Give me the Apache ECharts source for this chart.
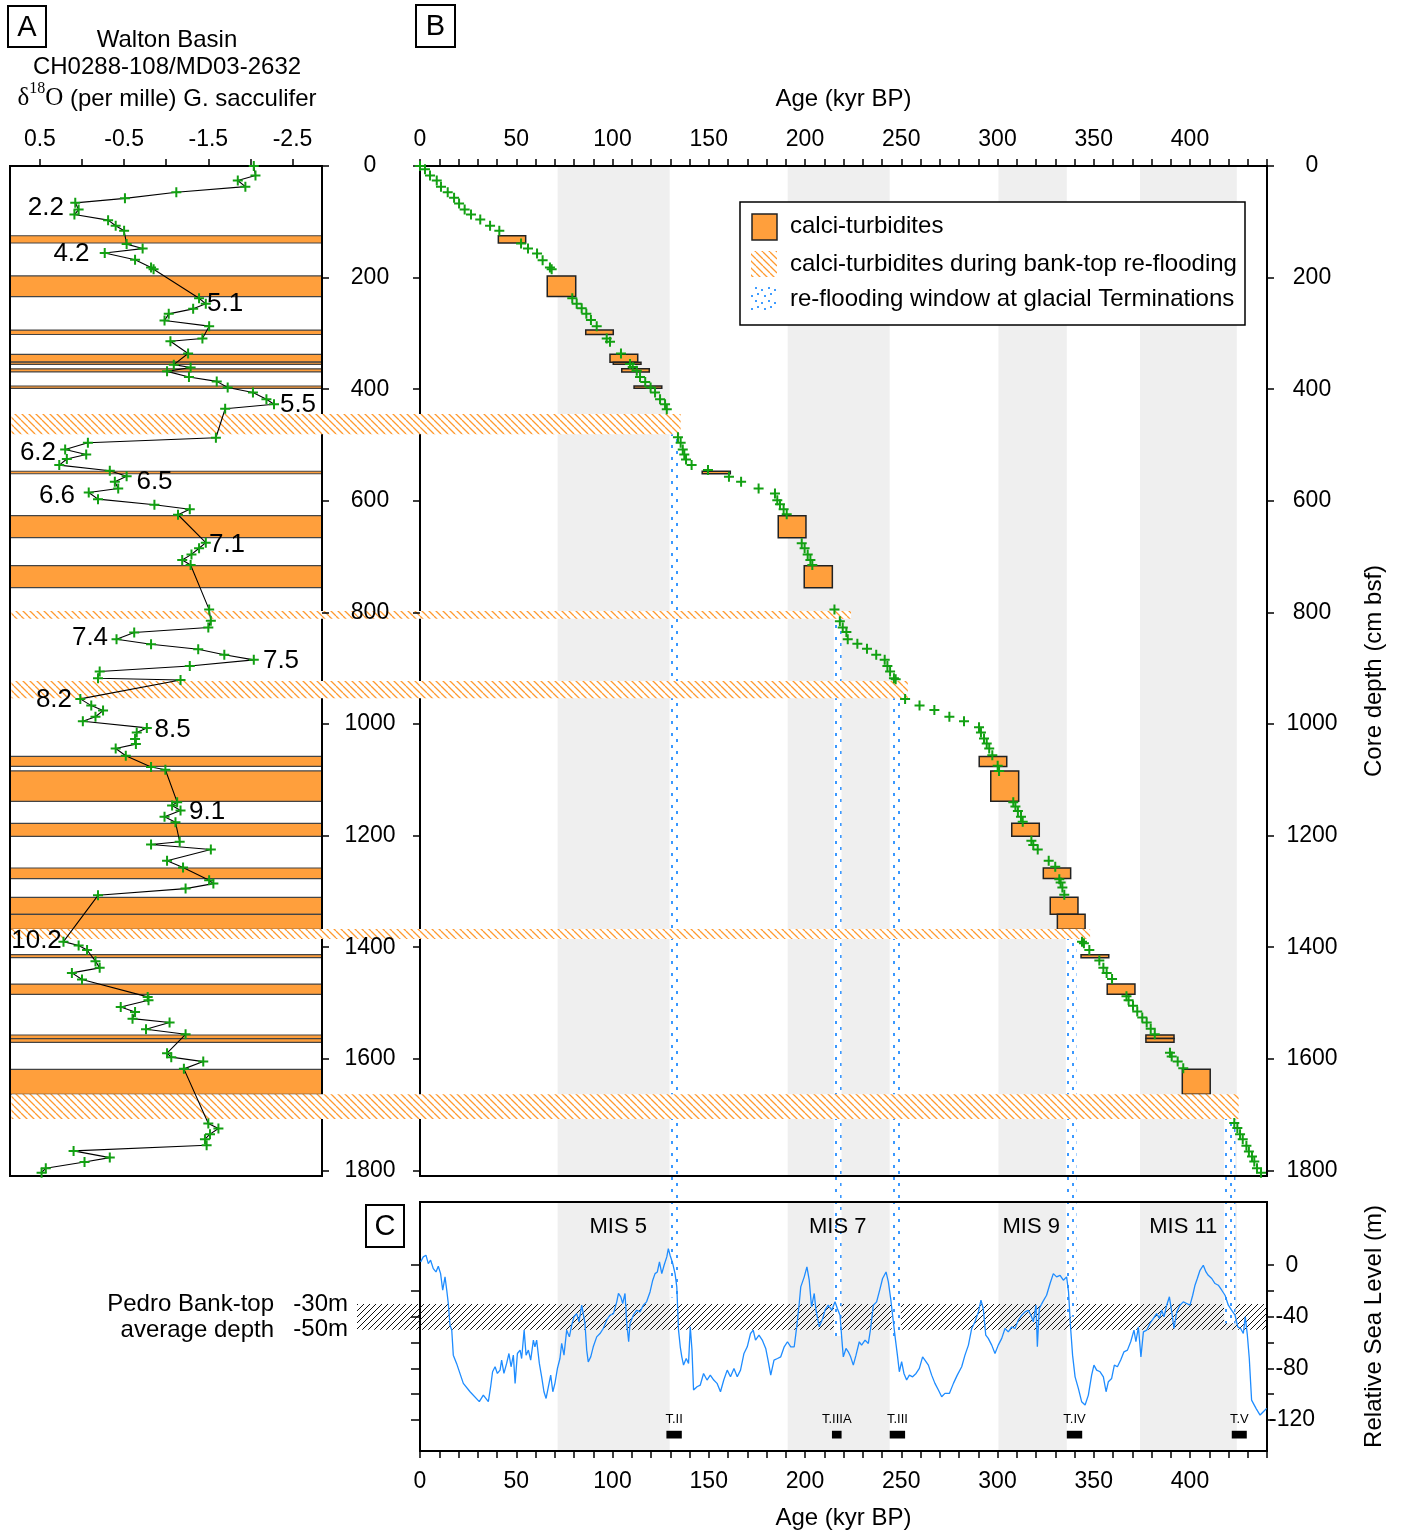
<!DOCTYPE html>
<html>
<head>
<meta charset="utf-8">
<title>Walton Basin calci-turbidites</title>
<script src="https://cdn.jsdelivr.net/npm/echarts@6.0.0/dist/echarts.min.js"></script>
<style>
html,body{margin:0;padding:0;background:#fff;}
#chart{width:1405px;height:1532px;}
</style>
</head>
<body>
<div id="chart"></div>
<script>
const FONT = "'Liberation Sans', Arial, Helvetica, sans-serif";
const SERIF = "'Liberation Serif', 'Times New Roman', serif";
const ORANGE = '#ff9f3c';
const GREEN = '#12a012';
const BLUE = '#1e8cff';
const GREY = '#efefef';

// ---------- Panel A : d18O (per mille) G. sacculifer, [depth cm, value] ----------
const isoRecord = [
 [0,-2.04],[17,-2.06],[26,-1.85],[37,-1.94],[47,-1.12],[58,-0.51],[66,0.08],[78,0.04],[87,0.09],
 [97,-0.31],[107,-0.40],[116,-0.50],[140,-0.53],[148,-0.72],[156,-0.27],[168,-0.63],[182,-0.82],
 [185,-0.85],[237,-1.39],[247,-1.47],[256,-1.32],[265,-1.03],[277,-0.98],[287,-1.51],[309,-1.43],
 [314,-1.05],[336,-1.26],[356,-1.09],[361,-1.29],[368,-1.01],[378,-1.27],[386,-1.60],[397,-1.73],
 [406,-2.03],[418,-2.19],[427,-2.28],[435,-1.70],[487,-1.59],[496,-0.07],[508,0.20],[517,-0.05],
 [525,0.18],[536,0.27],[546,-0.33],[556,-0.53],[566,-0.39],[578,-0.43],[585,-0.08],[597,-0.19],
 [607,-0.86],[615,-1.28],[625,-1.14],[675,-1.47],[685,-1.39],[696,-1.30],[706,-1.19],[715,-1.29],
 [795,-1.51],[815,-1.53],[827,-1.50],[836,-0.62],[848,-0.41],[857,-0.82],[866,-1.38],[876,-1.69],
 [885,-2.04],[896,-1.28],[906,-0.21],[918,-0.19],[921,-1.17],[955,0.02],[967,-0.11],[976,-0.25],
 [987,-0.16],[995,-0.01],[1007,-0.77],[1015,-0.65],[1027,-0.63],[1036,-0.64],[1044,-0.40],
 [1057,-0.52],[1077,-0.82],[1082,-0.99],[1140,-1.13],[1146,-1.07],[1155,-1.17],[1166,-0.98],
 [1176,-1.11],[1211,-1.16],[1216,-0.82],[1225,-1.53],[1245,-1.01],[1257,-1.20],[1280,-1.51],
 [1286,-1.56],[1295,-1.23],[1307,-0.19],[1390,0.22],[1397,0.04],[1405,-0.06],[1425,-0.16],
 [1437,-0.21],[1446,0.12],[1458,0.00],[1489,-0.78],[1495,-0.79],[1507,-0.46],[1516,-0.63],
 [1528,-0.60],[1535,-1.04],[1547,-0.76],[1556,-1.23],[1590,-1.01],[1597,-1.06],[1605,-1.44],
 [1618,-1.21],[1716,-1.50],[1725,-1.62],[1735,-1.52],[1744,-1.46],[1755,-1.48],[1765,0.10],
 [1777,-0.33],[1785,-0.03],[1796,0.43],[1804,0.48]
];
// isotope stage annotations: text, value, depth
const isoLabelText  = ['2.2','4.2','5.1','5.5','6.2','6.5','6.6','7.1','7.4','7.5','8.2','8.5','9.1','10.2'];
const isoLabelValue = [0.43,0.125,-1.70,-2.565,0.523,-0.861,0.297,-1.722,-0.095,-2.363,0.333,-1.075,-1.485,0.54];
const isoLabelDepth = [75,158,247,428,514,566,591,679,846,887,957,1011,1158,1389];

// ---------- Panel B : age model, [age kyr BP, depth cm] ----------
const ageModel = [
 [0,0],[2.6,6],[5.2,17],[8.7,26],[10.9,37],[14.4,47],[17.7,57],[20.3,67],[23.2,78],[26.5,87],
 [31.3,96],[36.4,107],[41.2,116],[52.5,139],[56.1,148],[60.8,157],[63.7,169],[67.5,182],[68.4,185],
 [79.1,237],[81.4,247],[84.0,255],[86.4,265],[88.8,276],[91.8,287],[97.0,309],[98.7,315],[104.4,336],
 [109.1,355],[110.5,360],[112.6,367],[114.3,378],[117.0,387],[119.8,397],[122.1,406],[124.7,418],
 [127.3,427],[128.2,436],[134.0,486],[135.4,496],[136.5,508],[137.3,517],[138.2,526],[141.1,536],
 [149.6,545],[160.5,557],[166.8,566],[175.9,578],[184.4,587],[185.6,599],[187.0,606],[188.9,615],
 [190.5,624],[198.3,676],[199.8,685],[201.4,696],[202.8,706],[203.8,715],[215.3,795],[218.1,816],
 [219.6,827],[221.5,835],[222.2,848],[227.2,856],[232.2,865],[237.0,876],[241.4,885],[242.8,896],
 [244.2,906],[246.2,918],[247.1,920],[252.0,955],[259.5,967],[267.2,975],[275.0,987],[282.6,995],
 [290.4,1006],[291.4,1015],[293.0,1026],[294.4,1035],[295.7,1044],[297.3,1056],[300.1,1075],
 [300.8,1084],[308.2,1140],[309.3,1148],[310.6,1156],[312.2,1166],[313.1,1175],[317.6,1209],
 [318.6,1217],[320.9,1225],[326.6,1245],[330.0,1256],[332.1,1278],[332.8,1284],[333.7,1293],
 [334.7,1306],[343.9,1390],[344.9,1393],[347.7,1405],[352.9,1424],[355.0,1437],[356.7,1446],
 [359.5,1457],[367.0,1488],[368.1,1495],[370.4,1505],[372.6,1515],[375.2,1526],[377.5,1535],
 [379.6,1546],[381.7,1556],[389.6,1589],[390.5,1596],[393.6,1605],[396.5,1617],[423.0,1715],
 [424.6,1724],[426.0,1735],[427.4,1744],[429.3,1756],[430.6,1766],[432.2,1775],[433.4,1784],
 [434.8,1796],[436.9,1804]
];

// calci-turbidites: [age start, age end, top depth, bottom depth]
const turbidites = [
 [40.7,54.9,125,138],[66.1,80.9,197,234],[86.1,100.4,294,302],[98.7,113.1,337.5,351.5],
 [100.4,114.8,351.5,355.5],[104.8,119.1,363.5,369],[111.2,125.6,394.3,398.4],[146.6,161.2,547,551.5],
 [186.1,200.5,626.7,666],[199.6,214.2,716.3,755.7],[290.5,304.8,1058,1076],[296.5,311,1084,1138.5],
 [307.4,321.7,1178,1201.3],[323.8,338,1258,1277],[327.4,341.8,1310.6,1341],[331.1,345.5,1341,1368],
 [343.4,357.8,1413.4,1418.8],[357,371.4,1466,1484.4],[377.1,391.7,1557.3,1563.8],
 [377.1,391.7,1563.8,1570.4],[396,410.5,1618.8,1663.6]
];

// calci-turbidites during bank-top re-flooding
const refloodTop    = [444.4, 797.5, 922.9, 1367.5, 1663.6];
const refloodBottom = [480.8, 811.3, 954.0, 1385.5, 1708.0];
const refloodAgeEnd = [135.4, 223.9, 253.4, 348.1, 425.3];

// glacial Terminations (re-flooding windows)
const termName        = ['T.II','T.IIIA','T.III','T.IV','T.V'];
const termWindowStart = [129.7, 215.0, 245.0, 335.5, 417.7];
const termWindowEnd   = [134.6, 219.0, 249.8, 341.0, 423.6];
const termWindowFloor = [-25, -55, -55, -40, -45];
const termBarStart    = [128.0, 214.0, 244.0, 336.0, 421.7];
const termBarEnd      = [136.0, 219.0, 252.0, 344.0, 429.5];

// Marine isotope stages (interglacials)
const misName     = ['MIS 5','MIS 7','MIS 9','MIS 11'];
const misStart    = [71.5, 191.0, 300.5, 374.0];
const misEnd      = [129.7, 244.0, 336.0, 424.3];
const misLabelAge = [103, 217, 317.5, 396.5];

// Panel C : relative sea level (m), [age kyr BP, sea level]
const seaLevel = [
 [0.35,2.6],[1.7,6.5],[3.1,7.8],[4.3,1.3],[5.5,3.9],[6.9,-2.6],[8.3,-5.2],[9.5,-0.8],[10.7,-6.5],
 [11.8,-19.4],[13,-9],[13.9,-19.4],[14.7,-29.7],[15.6,-46.5],[16.5,-50.4],[17.3,-69.8],[19,-76.2],
 [22.5,-91.7],[26,-98.2],[30.8,-105.9],[32.9,-100.8],[35.5,-105.9],[36.7,-94.3],[37.7,-82.7],
 [39,-78.8],[40.2,-84],[41.6,-81.4],[42.4,-73.6],[43.6,-84],[45,-76.2],[46.2,-68.5],[47.3,-78.8],
 [48.5,-69.8],[49.4,-91.7],[50.6,-68.5],[52,-65.9],[52.8,-72.4],[54.1,-50.4],[55.1,-69.8],
 [56.3,-65.9],[57.5,-73.6],[58.9,-58.1],[59.7,-63.3],[60.6,-58.1],[62,-76.2],[63.2,-86.6],
 [64.4,-98.2],[65.5,-103.4],[66.7,-94.3],[67.9,-85.3],[69,-98.2],[70.1,-91.7],[71.4,-80.1],
 [72.7,-72.4],[73.6,-60.7],[74.8,-69.8],[76.2,-50.4],[77.6,-55.6],[78.8,-46.5],[80,-40],
 [81.4,-37.5],[82.6,-43.9],[84,-31],[84.8,-29.7],[85.7,-45.2],[86.6,-65.9],[87.4,-75],[88.7,-71.1],
 [90,-63.3],[91.8,-55.6],[93.5,-53],[95.2,-49.1],[97,-42.6],[98.7,-38.8],[100.5,-37.5],
 [102.2,-28.4],[103.1,-21.9],[104.3,-24.5],[105.3,-29.7],[106.5,-21.9],[107.4,-45.2],[108.4,-59.4],
 [109.1,-45.2],[110.8,-38.8],[112.6,-34.9],[114.3,-36.2],[116,-31],[117.7,-28.4],[119.5,-20.7],
 [120.9,-11.6],[122.1,-6.5],[123.3,-5.2],[124.4,2.6],[125.6,-6.5],[126.8,0],[128.2,6.5],[129,12.9],
 [129.9,7.8],[131.3,1.3],[132.5,-6.5],[133.4,-16.8],[134.3,-50.4],[135.2,-63.3],[136,-71.1],
 [136.9,-77.5],[138.3,-72.4],[139.5,-76.2],[140.4,-47.8],[141.3,-65.9],[142.1,-96.9],[143.9,-94.3],
 [145.6,-93],[147.3,-84],[149.1,-89.1],[150.8,-85.3],[152.6,-89.1],[154.3,-91.7],[156.1,-98.2],
 [157.8,-89.1],[159.6,-81.4],[161.3,-86.6],[163.1,-80.1],[164.8,-86.6],[166.5,-81.4],[168.3,-68.5],
 [170,-63.3],[171.7,-53],[173.1,-50.4],[174.3,-58.1],[176.1,-54.3],[177.8,-58.1],[179.6,-64.6],
 [180.8,-73.6],[182.2,-85.3],[183.9,-73.6],[185.7,-72.4],[187.4,-71.1],[189.2,-63.3],[190.9,-59.4],
 [192.6,-63.3],[194.4,-63.3],[195.7,-47.8],[197,-29.7],[197.8,-16.8],[199.6,-9],[201,-1.3],
 [202.2,-11.6],[203.4,-32.3],[204.8,-21.9],[205.7,-34.9],[207.4,-47.8],[209.2,-41.3],[210.4,-34.9],
 [212.1,-31],[213.9,-34.9],[215.6,-28.4],[216.8,-33.6],[218.2,-38.8],[219.1,-56.8],[219.9,-71.1],
 [221.3,-64.6],[222.5,-67.2],[223.7,-71.1],[225.1,-77.5],[226.5,-69.8],[228.2,-59.4],[229.4,-62],
 [231.2,-58.1],[232.9,-60.7],[234.1,-49.1],[235.5,-31],[237.2,-28.4],[239,-18.1],[240.3,-10.3],
 [242.1,-5.2],[243.3,-12.9],[244.5,-25.8],[245.9,-43.9],[246.9,-56.8],[248,-69.8],[249,-82.7],
 [250.2,-74.9],[251.4,-84],[252.8,-89.1],[254.2,-85.3],[255.9,-86.6],[257.7,-84],[259.4,-80.1],
 [261.1,-71.1],[262.3,-73.6],[264.1,-77.5],[265.8,-85.3],[267.5,-91.7],[269.3,-96.9],[271,-102.1],
 [272.7,-99.5],[275,-99.5],[277.1,-91.7],[279.1,-85.3],[281.4,-78.8],[283.1,-69.8],[284.9,-62],
 [286.6,-49.1],[288.3,-43.9],[290.1,-36.2],[291.4,-27.1],[292.6,-33.6],[293.9,-54.3],[295.2,-56.8],
 [297,-62],[298.7,-68.5],[300.4,-62],[302.2,-56.8],[303.9,-49.1],[305.6,-51.7],[307.4,-47.8],
 [309.1,-49.1],[310.8,-42.6],[312.6,-38.8],[314.3,-36.2],[316,-34.9],[317.4,-38.8],[318.6,-43.9],
 [320,-31],[320.7,-63.3],[321.7,-33.6],[323.5,-28.4],[325.5,-23.3],[327.3,-14.2],[329,-6.5],
 [330.7,-9],[332.5,-7.8],[334.2,-11.6],[335.9,-9],[336.9,-20.7],[338,-49.1],[339,-69.8],
 [340.3,-86.6],[342,-95.6],[343.7,-105.9],[345.5,-108.5],[347.2,-100.8],[348.9,-85.3],[350.1,-77.5],
 [351.5,-81.4],[353.3,-82.7],[355,-86.6],[356.4,-98.2],[357.6,-90.4],[359.3,-87.9],[360.7,-77.5],
 [362.3,-78.8],[364,-73.6],[365.7,-67.2],[367.5,-65.9],[369.2,-59.4],[370.9,-50.4],[371.9,-59.4],
 [373.2,-47.8],[374.5,-71.1],[375.8,-51.7],[377.5,-50.4],[379.2,-45.2],[381,-41.3],[382.7,-37.5],
 [384.1,-41.3],[385.3,-34.9],[386.5,-40],[387.9,-31],[389.3,-24.5],[390.5,-36.2],[391.7,-49.1],
 [393.1,-36.2],[394.8,-31],[396.5,-28.4],[398.3,-29.7],[400,-31],[401.4,-23.3],[402.6,-15.5],
 [403.8,-10.3],[405.2,-3.9],[406.9,0],[408.3,-5.2],[409.5,-7.8],[411.3,-10.3],[413,-14.2],
 [414.7,-15.5],[416.5,-19.4],[418.2,-23.3],[419.9,-31],[421.6,-34.9],[423.4,-38.8],[424.8,-47.8],
 [426.3,-49.1],[427.7,-53],[428.7,-40],[429.8,-54.3],[430.8,-72.4],[432,-104.7],[434.3,-111.1],
 [436.4,-116.3],[438.1,-113.7],[439.8,-111.1]
];
const bankTopRange = [-30, -50];

// ---------- ticks ----------
const depthTicks = [0,200,400,600,800,1000,1200,1400,1600,1800];
const isoTicks = [0.5,0,-0.5,-1,-1.5,-2,-2.5];
const isoTickLabels = [0.5,-0.5,-1.5,-2.5];
const ageTicks = [0,10,20,30,40,50,60,70,80,90,100,110,120,130,140,150,160,170,180,190,200,210,220,
 230,240,250,260,270,280,290,300,310,320,330,340,350,360,370,380,390,400,410,420,430,440];
const ageTickLabels = [0,50,100,150,200,250,300,350,400];
const slTicks = [0,-20,-40,-60,-80,-100,-120];
const slTickLabels = [0,-40,-80,-120];

// ---------- patterns ----------
function hatch(size, color, lw, backslash, bg) {
  const c = document.createElement('canvas');
  c.width = size; c.height = size;
  const ctx = c.getContext('2d');
  if (bg) { ctx.fillStyle = bg; ctx.fillRect(0, 0, size, size); }
  ctx.strokeStyle = color; ctx.lineWidth = lw;
  ctx.beginPath();
  [-size, 0, size].forEach(o => {
    if (backslash) { ctx.moveTo(o, 0); ctx.lineTo(o + size, size); }
    else { ctx.moveTo(o, size); ctx.lineTo(o + size, 0); }
  });
  ctx.stroke();
  return c;
}
function dots() {
  const c = document.createElement('canvas');
  c.width = 9; c.height = 12;
  const ctx = c.getContext('2d');
  ctx.fillStyle = '#fff'; ctx.fillRect(0, 0, 9, 12);
  ctx.fillStyle = '#3a98ff';
  ctx.fillRect(1, 1, 2, 3);
  ctx.fillRect(6, 7, 2, 3);
  return c;
}
function dotsLegend() {
  const c = document.createElement('canvas');
  c.width = 13; c.height = 13;
  const ctx = c.getContext('2d');
  ctx.fillStyle = '#fff'; ctx.fillRect(0, 0, 13, 13);
  ctx.fillStyle = '#3f9cff';
  ctx.fillRect(1, 1, 2, 2); ctx.fillRect(7, 3, 2, 2); ctx.fillRect(3, 7, 2, 2); ctx.fillRect(10, 9, 2, 2);
  return c;
}
const orangeHatch = { image: hatch(7, '#ff9a30', 1.3, true, '#fff'), repeat: 'repeat' };
const blackHatch = { image: hatch(6, '#111', 1, false, null), repeat: 'repeat' };
const dotImg = dots();
const dotLegendFill = { image: dotsLegend(), repeat: 'repeat' };

const PLUS = 'path://M3.6,0H5.4V3.6H9V5.4H5.4V9H3.6V5.4H0V3.6H3.6Z';

const chart = echarts.init(document.getElementById('chart'), null, { renderer: 'canvas' });

const tickStyle = { lineStyle: { color: '#000', width: 1.5 } };
const labelBase = { color: '#000', fontFamily: FONT, fontSize: 23 };
const plainNum = v => String(v);
const noLine = { show: false, onZero: false };
const AXZ = 12;

function bandRender(params, api) {
  const x0 = api.coord([api.value(0), 0])[0];
  const x1 = api.coord([api.value(1), 0])[0];
  const cs = params.coordSys;
  return { type: 'rect', shape: { x: x0, y: cs.y, width: x1 - x0, height: cs.height }, style: { fill: GREY } };
}

const option = {
  animation: false,
  backgroundColor: '#fff',
  grid: [
    { left: 10, top: 166, width: 312, height: 1010, show: true, borderColor: '#000', borderWidth: 2, backgroundColor: 'transparent', z: 10 },
    { left: 420, top: 166, width: 847, height: 1010, show: true, borderColor: '#000', borderWidth: 2, backgroundColor: 'transparent', z: 10 },
    { left: 420, top: 1202, width: 847, height: 249, show: true, borderColor: '#000', borderWidth: 2, backgroundColor: 'transparent', z: 10 }
  ],
  xAxis: [
    { gridIndex: 0, type: 'value', position: 'top', inverse: true, min: -2.85, max: 0.855, z: AXZ,
      axisLine: noLine, splitLine: { show: false },
      axisTick: { show: true, inside: false, length: 7, customValues: isoTicks, ...tickStyle },
      axisLabel: { ...labelBase, margin: 15, customValues: isoTickLabels, formatter: v => Number(v).toFixed(1) } },
    { gridIndex: 1, type: 'value', position: 'top', min: 0, max: 440, z: AXZ,
      name: 'Age (kyr BP)', nameLocation: 'middle', nameGap: 55,
      nameTextStyle: { color: '#000', fontFamily: FONT, fontSize: 24 },
      axisLine: noLine, splitLine: { show: false },
      axisTick: { show: true, inside: false, length: 7, customValues: ageTicks, ...tickStyle },
      axisLabel: { ...labelBase, margin: 15, customValues: ageTickLabels, formatter: plainNum } },
    { gridIndex: 2, type: 'value', position: 'bottom', min: 0, max: 440, z: AXZ,
      name: 'Age (kyr BP)', nameLocation: 'middle', nameGap: 55,
      nameTextStyle: { color: '#000', fontFamily: FONT, fontSize: 24 },
      axisLine: noLine, splitLine: { show: false },
      axisTick: { show: true, inside: false, length: 7, customValues: ageTicks, ...tickStyle },
      axisLabel: { ...labelBase, margin: 19, customValues: ageTickLabels, formatter: plainNum } }
  ],
  yAxis: [
    { gridIndex: 0, type: 'value', position: 'right', inverse: true, min: 0, max: 1810, z: AXZ,
      axisLine: noLine, splitLine: { show: false },
      axisTick: { show: true, inside: false, length: 7, customValues: depthTicks, ...tickStyle },
      axisLabel: { show: false } },
    { gridIndex: 1, type: 'value', position: 'left', inverse: true, min: 0, max: 1810, z: AXZ,
      axisLine: noLine, splitLine: { show: false },
      axisTick: { show: true, inside: false, length: 7, customValues: depthTicks, ...tickStyle },
      axisLabel: { ...labelBase, align: 'center', margin: 50, padding: [6, 0, 0, 0], customValues: depthTicks, formatter: plainNum } },
    { gridIndex: 1, type: 'value', position: 'right', inverse: true, min: 0, max: 1810, z: AXZ,
      name: 'Core depth (cm bsf)', nameLocation: 'middle', nameGap: 95,
      nameTextStyle: { color: '#000', fontFamily: FONT, fontSize: 24, padding: [0, 0, 10, 0] },
      axisLine: noLine, splitLine: { show: false },
      axisTick: { show: true, inside: false, length: 7, customValues: depthTicks, ...tickStyle },
      axisLabel: { ...labelBase, align: 'center', margin: 45, padding: [6, 0, 0, 0], customValues: depthTicks, formatter: plainNum } },
    { gridIndex: 2, type: 'value', position: 'left', min: -144.2, max: 49.1, z: AXZ,
      axisLine: noLine, splitLine: { show: false },
      axisTick: { show: true, inside: false, length: 9, customValues: slTicks, ...tickStyle },
      axisLabel: { show: false } },
    { gridIndex: 2, type: 'value', position: 'right', min: -144.2, max: 49.1, z: AXZ,
      name: 'Relative Sea Level (m)', nameLocation: 'middle', nameGap: 95,
      nameTextStyle: { color: '#000', fontFamily: FONT, fontSize: 24 },
      axisLine: noLine, splitLine: { show: false },
      axisTick: { show: true, inside: false, length: 7, customValues: slTicks, ...tickStyle },
      axisLabel: { ...labelBase, align: 'center', margin: 25, padding: [4, 0, 0, 0], customValues: slTickLabels, formatter: plainNum } }
  ],
  series: [
    // MIS grey bands, panel B
    { type: 'custom', name: 'MIS bands B', xAxisIndex: 1, yAxisIndex: 1, z: 1, silent: true,
      data: misStart.map((s, i) => [s, misEnd[i]]), renderItem: bandRender },
    // MIS grey bands, panel C
    { type: 'custom', name: 'MIS bands C', xAxisIndex: 2, yAxisIndex: 3, z: 1, silent: true,
      data: misStart.map((s, i) => [s, misEnd[i]]), renderItem: bandRender },
    // MIS labels, panel C
    { type: 'custom', name: 'MIS labels', xAxisIndex: 2, yAxisIndex: 3, z: 14, silent: true,
      data: misLabelAge.map(a => [a, 30]),
      renderItem: (params, api) => {
        const p = api.coord([api.value(0), api.value(1)]);
        return { type: 'text', style: { text: misName[params.dataIndex], x: p[0], y: p[1],
          align: 'center', verticalAlign: 'middle', textAlign: 'center', textVerticalAlign: 'middle',
          fill: '#000', font: `22px ${FONT}` } };
      } },
    // calci-turbidite layers in panel A (full width)
    { type: 'custom', name: 'turbidites A', xAxisIndex: 0, yAxisIndex: 0, z: 5, silent: true,
      data: turbidites.map(t => [t[2], t[3]]),
      renderItem: (params, api) => {
        const cs = params.coordSys;
        const y0 = api.coord([0, api.value(0)])[1];
        const y1 = api.coord([0, api.value(1)])[1];
        return { type: 'rect', shape: { x: cs.x, y: y0, width: cs.width, height: y1 - y0 },
          style: { fill: ORANGE, stroke: '#444', lineWidth: 1.2 } };
      } },
    // calci-turbidite boxes in panel B
    { type: 'custom', name: 'turbidites B', xAxisIndex: 1, yAxisIndex: 1, z: 5, silent: true,
      data: turbidites,
      renderItem: (params, api) => {
        const p0 = api.coord([api.value(0), api.value(2)]);
        const p1 = api.coord([api.value(1), api.value(3)]);
        return { type: 'rect', shape: { x: p0[0], y: p0[1], width: p1[0] - p0[0], height: p1[1] - p0[1] },
          style: { fill: ORANGE, stroke: '#222', lineWidth: 1.5 } };
      } },
    // d18O record
    { type: 'line', name: 'd18O', xAxisIndex: 0, yAxisIndex: 0, z: 13,
      data: isoRecord.map(r => [r[1], r[0]]),
      symbol: PLUS, symbolSize: 10, showSymbol: true, showAllSymbol: true,
      itemStyle: { color: GREEN }, lineStyle: { color: '#000', width: 1.1 } },
    // isotope stage labels
    { type: 'custom', name: 'stage labels', xAxisIndex: 0, yAxisIndex: 0, z: 14, silent: true,
      data: isoLabelValue.map((v, i) => [v, isoLabelDepth[i]]),
      renderItem: (params, api) => {
        const p = api.coord([api.value(0), api.value(1)]);
        return { type: 'text', style: { text: isoLabelText[params.dataIndex], x: p[0], y: p[1],
          align: 'center', verticalAlign: 'middle', textAlign: 'center', textVerticalAlign: 'middle',
          fill: '#000', font: `26px ${FONT}` } };
      } },
    // age model points
    { type: 'scatter', name: 'age model', xAxisIndex: 1, yAxisIndex: 1, z: 13,
      data: ageModel, symbol: PLUS, symbolSize: 10, itemStyle: { color: GREEN, opacity: 1 } },
    // sea level curve
    { type: 'line', name: 'sea level', xAxisIndex: 2, yAxisIndex: 3, z: 13, clip: true,
      data: seaLevel, symbol: 'none', lineStyle: { color: BLUE, width: 1.3 } },
    // termination bars + labels
    { type: 'custom', name: 'terminations', xAxisIndex: 2, yAxisIndex: 3, z: 13, silent: true,
      data: termBarStart.map((s, i) => [s, termBarEnd[i]]),
      renderItem: (params, api) => {
        const p0 = api.coord([api.value(0), -128.5]);
        const p1 = api.coord([api.value(1), -134.5]);
        const t = api.coord([(api.value(0) + api.value(1)) / 2, -120]);
        return { type: 'group', children: [
          { type: 'rect', shape: { x: p0[0], y: p0[1], width: p1[0] - p0[0], height: p1[1] - p0[1] }, style: { fill: '#000' } },
          { type: 'text', style: { text: termName[params.dataIndex], x: t[0], y: t[1],
            align: 'center', verticalAlign: 'middle', textAlign: 'center', textVerticalAlign: 'middle',
            fill: '#000', font: `13px ${FONT}` } }
        ] };
      } }
  ]
};

chart.setOption(option);

// ---------- annotations that span several panels (positions from the axes' scales) ----------
const px = (v) => chart.convertToPixel({ xAxisIndex: 1 }, v);
const pyB = (v) => chart.convertToPixel({ yAxisIndex: 1 }, v);
const pxC = (v) => chart.convertToPixel({ xAxisIndex: 2 }, v);
const pyC = (v) => chart.convertToPixel({ yAxisIndex: 3 }, v);
const aLeft = chart.convertToPixel({ xAxisIndex: 0 }, 0.855);

const g = [];
// re-flooding windows (dotted)
termName.forEach((n, i) => {
  const x0 = px(termWindowStart[i]), x1 = px(termWindowEnd[i]);
  const y0 = pyB(refloodBottom[i]), y1 = pyC(termWindowFloor[i]);
  g.push({ type: 'rect', z: 4, silent: true, shape: { x: x0, y: y0, width: x1 - x0, height: y1 - y0 },
    style: { fill: { image: dotImg, repeat: 'repeat', x: Math.round(x0), y: 0 } } });
});
// calci-turbidites during bank-top re-flooding (hatched)
refloodTop.forEach((t, i) => {
  const y0 = pyB(t), y1 = pyB(refloodBottom[i]);
  const x1 = px(refloodAgeEnd[i]);
  g.push({ type: 'rect', z: 11, silent: true, shape: { x: aLeft + 1.5, y: y0, width: x1 - aLeft - 1.5, height: y1 - y0 }, style: { fill: orangeHatch } });
});
// Pedro Bank-top depth band
{
  const y0 = pyC(bankTopRange[0]), y1 = pyC(bankTopRange[1]);
  const x1 = pxC(440);
  g.push({ type: 'rect', z: 3, silent: true, shape: { x: 357, y: y0, width: x1 - 357, height: y1 - y0 }, style: { fill: blackHatch } });
  g.push({ type: 'text', z: 20, style: { text: 'Pedro Bank-top', x: 274, y: y0, align: 'right', verticalAlign: 'middle', textAlign: 'right', textVerticalAlign: 'middle', fill: '#000', font: `24px ${FONT}` } });
  g.push({ type: 'text', z: 20, style: { text: 'average depth', x: 274, y: y1 + 1, align: 'right', verticalAlign: 'middle', textAlign: 'right', textVerticalAlign: 'middle', fill: '#000', font: `24px ${FONT}` } });
  g.push({ type: 'text', z: 20, style: { text: '-30m', x: 348, y: y0, align: 'right', verticalAlign: 'middle', textAlign: 'right', textVerticalAlign: 'middle', fill: '#000', font: `24px ${FONT}` } });
  g.push({ type: 'text', z: 20, style: { text: '-50m', x: 348, y: y1, align: 'right', verticalAlign: 'middle', textAlign: 'right', textVerticalAlign: 'middle', fill: '#000', font: `24px ${FONT}` } });
}
// panel letters
[['A', 8, 6, 38, 41], ['B', 416, 5, 39, 42], ['C', 366, 1205, 38, 42]].forEach(([t, x, y, w, h]) => {
  g.push({ type: 'rect', z: 20, shape: { x, y, width: w, height: h }, style: { fill: '#fff', stroke: '#000', lineWidth: 2 } });
  g.push({ type: 'text', z: 21, style: { text: t, x: x + w / 2, y: y + h / 2 + 1, align: 'center', verticalAlign: 'middle', textAlign: 'center', textVerticalAlign: 'middle', fill: '#000', font: `29px ${FONT}` } });
});
// panel A header
g.push({ type: 'text', z: 20, style: { text: 'Walton Basin', x: 167, y: 40, align: 'center', verticalAlign: 'middle', textAlign: 'center', textVerticalAlign: 'middle', fill: '#000', font: `24px ${FONT}` } });
g.push({ type: 'text', z: 20, style: { text: 'CH0288-108/MD03-2632', x: 167, y: 67, align: 'center', verticalAlign: 'middle', textAlign: 'center', textVerticalAlign: 'middle', fill: '#000', font: `24px ${FONT}` } });
g.push({ type: 'text', z: 20, style: {
  text: '{s|δ}{sup|18}{s|O}{n| (per mille) G. sacculifer}', x: 167, y: 96,
  align: 'center', verticalAlign: 'middle', textAlign: 'center', textVerticalAlign: 'middle',
  rich: {
    s: { fontFamily: SERIF, fontSize: 25, color: '#000', lineHeight: 30, verticalAlign: 'bottom' },
    sup: { fontFamily: SERIF, fontSize: 16, color: '#000', lineHeight: 30, verticalAlign: 'top' },
    n: { fontFamily: FONT, fontSize: 24, color: '#000', lineHeight: 30, verticalAlign: 'bottom' }
  } } });
// legend
g.push({ type: 'rect', z: 30, shape: { x: 740, y: 202, width: 505, height: 123 }, style: { fill: '#fff', stroke: '#000', lineWidth: 1.5 } });
g.push({ type: 'rect', z: 31, shape: { x: 752, y: 214, width: 25, height: 26 }, style: { fill: ORANGE, stroke: '#222', lineWidth: 1.5 } });
g.push({ type: 'rect', z: 31, shape: { x: 751, y: 251, width: 26, height: 26 }, style: { fill: orangeHatch } });
g.push({ type: 'rect', z: 31, shape: { x: 751, y: 286, width: 26, height: 26 }, style: { fill: dotLegendFill } });
[['calci-turbidites', 226], ['calci-turbidites during bank-top re-flooding', 264], ['re-flooding window at glacial Terminations', 299]].forEach(([t, y]) => {
  g.push({ type: 'text', z: 32, style: { text: t, x: 790, y, align: 'left', verticalAlign: 'middle', textAlign: 'left', textVerticalAlign: 'middle', fill: '#000', font: `24px ${FONT}` } });
});

chart.setOption({ graphic: { elements: g } });
</script>
</body>
</html>
